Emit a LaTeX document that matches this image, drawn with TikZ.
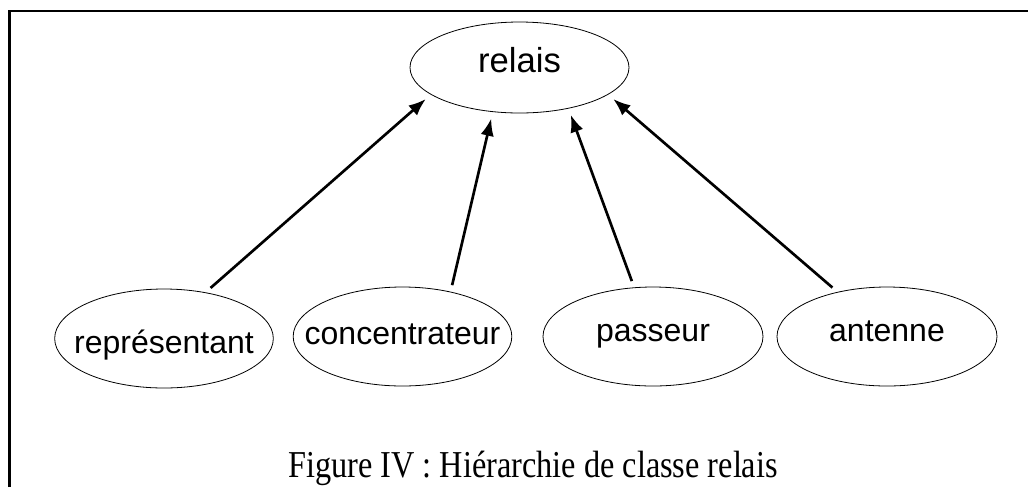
\documentclass[tikz,border=0pt]{standalone}
\usepackage{fontspec}
\setmainfont{Liberation Serif}
\setsansfont{Liberation Sans}
\newfontfamily\legendefont[FakeStretch=0.85]{Liberation Serif}
\usetikzlibrary{arrows.meta,positioning,shapes.geometric}

\begin{document}
\begin{tikzpicture}[x=0.75pt, y=-0.75pt,
  classe/.style={draw, ellipse, line width=0.6pt, minimum width=164pt, minimum height=74.25pt, inner sep=0pt, text height=17pt, text depth=5pt, font=\sffamily\fontsize{24}{24}\selectfont},
  fleche/.style={-{Latex[length=13pt, width=10pt]}, line width=2pt, shorten <=5pt, shorten >=5pt}
]
  \useasboundingbox (0,0) rectangle (1028,487);

  %% Frame
  \draw[line width=2.2pt] (9.5,487) -- (9.5,11) -- (1028,11);

  %% Root class
  \node[classe, minimum width=164.25pt, minimum height=68.25pt, font=\sffamily\fontsize{26}{26}\selectfont] (relais) at (519.5,67.5) {\makebox[0pt]{\raisebox{2.6pt}{relais}}};

  %% Sub classes
  \node[classe] (rep) at (164,338.5) {\makebox[0pt]{\raisebox{-5.6pt}{représentant}}};
  \node[classe] (conc) at (402.5,336.5) {\makebox[0pt]{concentrateur}};
  \node[classe, minimum width=165pt] (pass) at (653,336.5) {\makebox[0pt]{\raisebox{2.2pt}{passeur}}};
  \node[classe, minimum width=165pt] (ant) at (887,336.5) {\makebox[0pt]{\raisebox{2.2pt}{antenne}}};

  %% Inheritance arrows
  \draw[fleche] (rep.48) -- (relais.197);
  \draw[fleche] (conc.43) -- (relais.239);
  \draw[fleche] (pass.111) -- (relais.-40);
  \draw[fleche] (ant.138) -- (relais.-17);

  %% Caption
  \node[anchor=base, font=\legendefont\fontsize{28.5}{28.5}\selectfont] (legende) at (533,477) {Figure IV : Hiérarchie de classe relais};
\end{tikzpicture}
\end{document}
